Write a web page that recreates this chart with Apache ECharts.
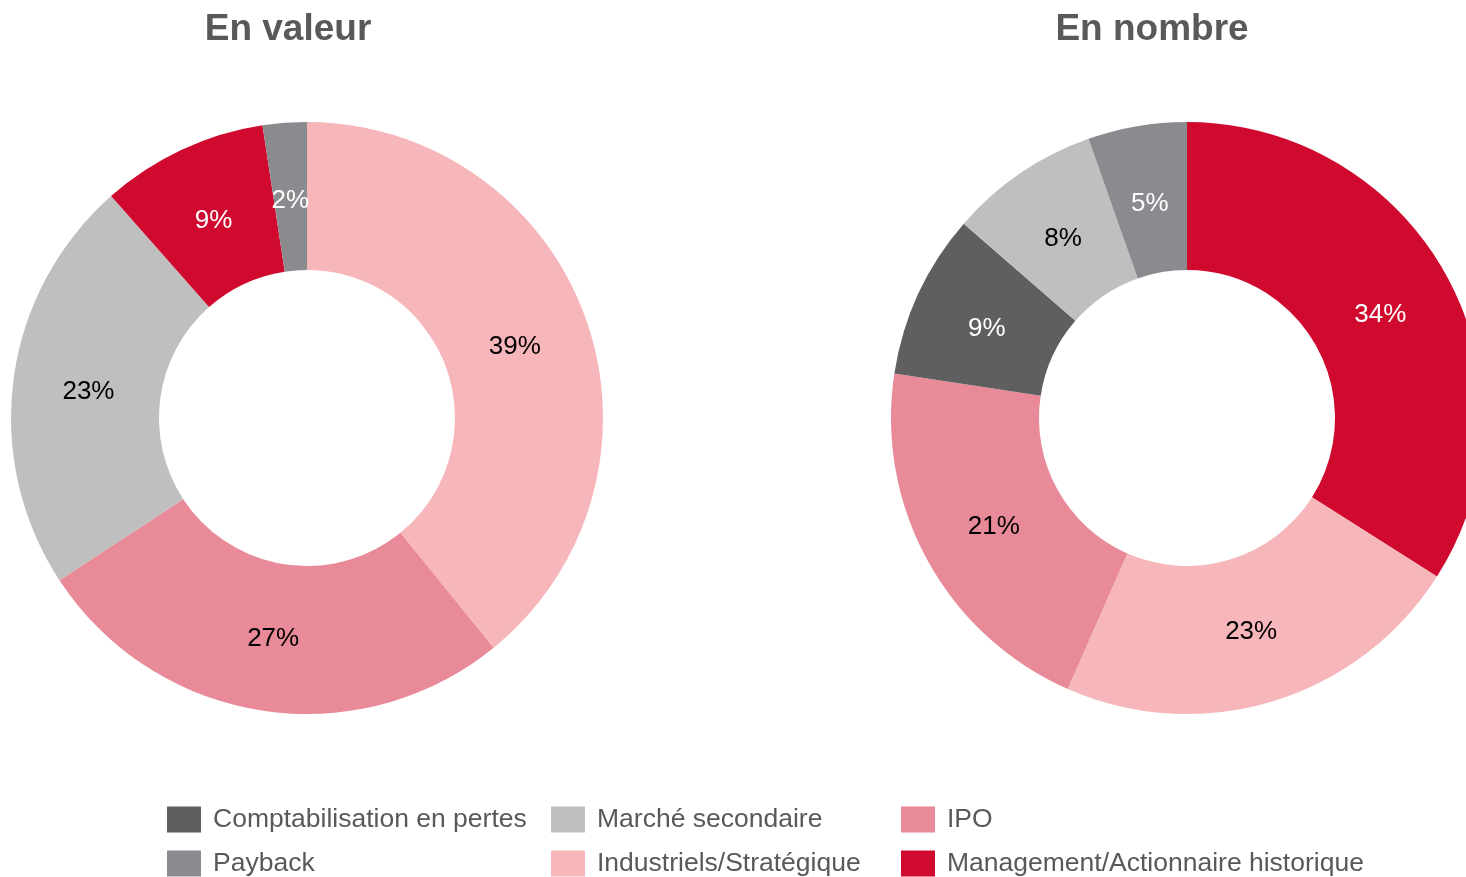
<!DOCTYPE html>
<html>
<head>
<meta charset="utf-8">
<title>En valeur / En nombre</title>
<script src="https://cdn.jsdelivr.net/npm/echarts@6/dist/echarts.min.js"></script>
<style>
  html, body { margin: 0; padding: 0; background: #fff; }
  #chart { width: 1466px; height: 877px; }
</style>
</head>
<body>
<div id="chart"></div>
<script>
  // categories, in legend order
  const categories = [
    'Comptabilisation en pertes',
    'Marché secondaire',
    'IPO',
    'Payback',
    'Industriels/Stratégique',
    'Management/Actionnaire historique'
  ];
  const colors = ['#5f5f5f', '#bfbfbf', '#e88a98', '#8a8b8f', '#f7b6ba', '#d00a2e'];
  // white labels on dark slices
  const labelColors = ['#fff', '#000', '#000', '#fff', '#000', '#fff'];

  // En valeur, clockwise from top (shares)
  const valeurNames = ['Industriels/Stratégique', 'IPO', 'Marché secondaire', 'Management/Actionnaire historique', 'Payback'];
  const valeurValues = [39.1, 26.6, 22.7, 9.1, 2.4];

  // En nombre, clockwise from top
  const nombreNames = ['Management/Actionnaire historique', 'Industriels/Stratégique', 'IPO', 'Comptabilisation en pertes', 'Marché secondaire', 'Payback'];
  const nombreValues = [34.0, 22.6, 20.8, 9.0, 8.2, 5.4];

  const font = '"Liberation Sans", Arial, Helvetica, sans-serif';

  function buildData(names, values) {
    return names.map((n, i) => {
      const k = categories.indexOf(n);
      return {
        name: n,
        value: values[i],
        itemStyle: { color: colors[k] },
        label: { color: labelColors[k] }
      };
    });
  }

  function pieSeries(names, values, center) {
    return {
      type: 'pie',
      center: center,
      radius: [148, 296],
      startAngle: 90,
      clockwise: true,
      avoidLabelOverlap: false,
      silent: true,
      label: {
        show: true,
        position: 'inside',
        formatter: p => Math.round(p.value) + '%',
        fontSize: 26,
        fontFamily: font
      },
      labelLine: { show: false },
      // pull labels a bit towards the centre and down, like the original
      labelLayout: p => {
        const r = p.labelRect;
        const lx = r.x + r.width / 2, ly = r.y + r.height / 2;
        const k = 0.98;
        return {
          x: center[0] + (lx - center[0]) * k,
          y: center[1] + (ly - center[1]) * k + 3
        };
      },
      data: buildData(names, values)
    };
  }

  function legendCol(left, items) {
    return {
      orient: 'vertical',
      left: left,
      top: 806,
      padding: 0,
      icon: 'rect',
      itemWidth: 34,
      itemHeight: 26,
      itemGap: 17,
      selectedMode: false,
      textStyle: { fontSize: 26.5, color: '#595959', fontFamily: font, padding: [4, 0, 0, 7] },
      data: items
    };
  }

  const myChart = echarts.init(document.getElementById('chart'));
  myChart.setOption({
    animation: false,
    title: [
      {
        text: 'En valeur', left: 283, top: 6, textAlign: 'center',
        textStyle: { fontSize: 37, fontWeight: 'bold', color: '#595959', fontFamily: font }
      },
      {
        text: 'En nombre', left: 1147, top: 6, textAlign: 'center',
        textStyle: { fontSize: 37, fontWeight: 'bold', color: '#595959', fontFamily: font }
      }
    ],
    legend: [
      legendCol(167, [categories[0], categories[3]]),
      legendCol(551, [categories[1], categories[4]]),
      legendCol(901, [categories[2], categories[5]])
    ],
    series: [
      pieSeries(valeurNames, valeurValues, [307, 418]),
      pieSeries(nombreNames, nombreValues, [1187, 418])
    ]
  });
</script>
</body>
</html>
